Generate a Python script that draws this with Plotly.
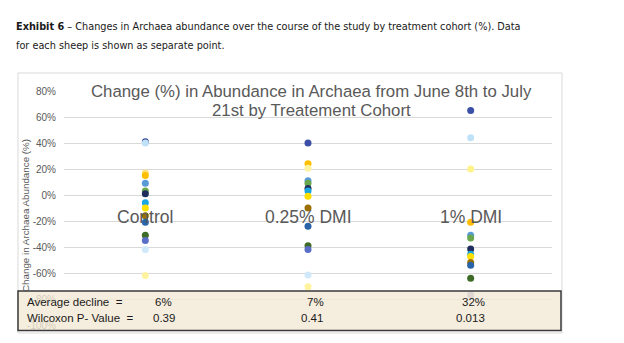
import plotly.graph_objects as go

# ---- data ----
categories = ["Control", "0.25% DMI", "1% DMI"]
control_values = [41, 40, 17, 15, 9, 3, 1, -6, -10, -16, -21, -31, -35, -42, -62]
control_colors = ["#33449a", "#bfe2f8", "#ffe27a", "#ffbf00", "#5b9bd5", "#6aa84f", "#1f2d5c",
                  "#1aa7e0", "#ffe000", "#9c7000", "#2a64a8", "#3e6b26", "#5a6ec8", "#cfe9fb", "#fff3a0"]
dmi025_values = [40, 24, 20.5, 11, 9, 5, 3, -1, -10, -24, -39, -42, -61.5, -70.5]
dmi025_colors = ["#3a4fa5", "#ffbf00", "#fff3a0", "#5b9bd5", "#6aa84f", "#1f2d5c", "#1aa7e0",
                 "#ffe000", "#9c7000", "#2a64a8", "#3e6b26", "#5a6ec8", "#cfe9fb", "#fff3a0"]
dmi1_values = [65, 44, 20, -21, -31, -33, -41.5, -45.6, -47.4, -52, -54, -64, -77]
dmi1_colors = ["#3a4fa5", "#bfe2f8", "#fff38a", "#ffbf00", "#5b9bd5", "#6aa84f", "#1f2d5c",
               "#1aa7e0", "#ffe000", "#9c7000", "#2a64a8", "#3e6b26", "#8f8fc0"]
avg_decline = ["6%", "7%", "32%"]
p_values = ["0.39", "0.41", "0.013"]
y_ticks = [80, 60, 40, 20, 0, -20, -40, -60, -80, -100]

W, H = 624, 343
L, R, T, B = 64, 72, 91, 18
PW, PH = W - L - R, H - T - B

def px(xp):
    return (xp - L) / PW

def py(yp):
    return (H - B - yp) / PH

fig = go.Figure()
groups = [(categories[0], control_values, control_colors),
          (categories[1], dmi025_values, dmi025_colors),
          (categories[2], dmi1_values, dmi1_colors)]
for name, vals, cols in groups:
    fig.add_trace(go.Scatter(
        x=[name] * len(vals), y=vals, mode="markers",
        marker=dict(size=7, color=cols, line=dict(width=0)),
        showlegend=False, hoverinfo="y"))

font_main = "Liberation Sans, Arial, sans-serif"
font_narrow = "Liberation Sans Narrow, DejaVu Sans Condensed, Arial Narrow, sans-serif"

fig.update_layout(
    width=W, height=H,
    margin=dict(l=L, r=R, t=T, b=B),
    paper_bgcolor="white", plot_bgcolor="white",
    xaxis=dict(type="category", categoryarray=categories, range=[-0.5, 2.5],
               showticklabels=False, showgrid=False, zeroline=False, showline=False),
    yaxis=dict(range=[-100, 80], tickvals=y_ticks,
               ticktext=[f"{v}%" for v in y_ticks],
               showgrid=True, gridcolor="#d9d9d9", gridwidth=1, zeroline=False,
               showline=False, ticks="", ticklen=0, ticklabelstandoff=7,
               tickfont=dict(family=font_main, size=10, color="#595959")),
    font=dict(family=font_main),
)

shapes = []
# outer chart frame
shapes.append(dict(type="rect", xref="paper", yref="paper",
                   x0=px(18), x1=px(562), y0=py(333), y1=py(73),
                   line=dict(color="#d9d9d9", width=1), fillcolor="rgba(0,0,0,0)", layer="below"))
# stats box
shapes.append(dict(type="rect", xref="paper", yref="paper",
                   x0=px(18), x1=px(561), y0=py(330.5), y1=py(291),
                   line=dict(color="#3a3a3a", width=1.5), fillcolor="rgba(243,233,213,0.8)",
                   layer="above"))
fig.update_layout(shapes=shapes)

ann = []
# header text
ann.append(dict(xref="paper", yref="paper", x=px(14), y=py(26), xanchor="left", yanchor="middle",
                showarrow=False, align="left",
                text="<b>Exhibit 6</b> – Changes in Archaea abundance over the course of the study by treatment cohort (%). Data",
                font=dict(family=font_narrow, size=10.8, color="#1a1a1a")))
ann.append(dict(xref="paper", yref="paper", x=px(14), y=py(45), xanchor="left", yanchor="middle",
                showarrow=False, align="left",
                text="for each sheep is shown as separate point.",
                font=dict(family=font_narrow, size=10.8, color="#1a1a1a")))
# chart title
ann.append(dict(xref="paper", yref="paper", x=px(311), y=py(91), xanchor="center", yanchor="middle",
                showarrow=False,
                text="Change (%) in Abundance in Archaea from June 8th to July",
                font=dict(family=font_main, size=16.8, color="#595959")))
ann.append(dict(xref="paper", yref="paper", x=px(311), y=py(110), xanchor="center", yanchor="middle",
                showarrow=False,
                text="21st by Treatement Cohort",
                font=dict(family=font_main, size=16.8, color="#595959")))
# y axis title
ann.append(dict(xref="paper", yref="paper", x=px(25), y=py(216), xanchor="center", yanchor="middle",
                showarrow=False, textangle=-90,
                text="Change in Archaea Abundance (%)",
                font=dict(family=font_main, size=9.8, color="#595959")))
# category labels
for c in categories:
    ann.append(dict(xref="x", yref="y", x=c, y=-17, xanchor="center", yanchor="middle",
                    showarrow=False, text=c,
                    font=dict(family=font_main, size=17.5, color="#595959")))
# stats box text
ann.append(dict(xref="paper", yref="paper", x=px(25), y=py(302), xanchor="left", yanchor="middle",
                showarrow=False, text="Average decline  =",
                font=dict(family=font_main, size=11.5, color="#1a1a1a")))
ann.append(dict(xref="paper", yref="paper", x=px(25), y=py(318), xanchor="left", yanchor="middle",
                showarrow=False, text="Wilcoxon P- Value  =",
                font=dict(family=font_main, size=11.5, color="#1a1a1a")))
avg_x = [163, 315, 473]
p_x = [164, 312, 470]
for i in range(3):
    ann.append(dict(xref="paper", yref="paper", x=px(avg_x[i]), y=py(302), xanchor="center",
                    yanchor="middle", showarrow=False, text=avg_decline[i],
                    font=dict(family=font_main, size=11.5, color="#1a1a1a")))
    ann.append(dict(xref="paper", yref="paper", x=px(p_x[i]), y=py(318), xanchor="center",
                    yanchor="middle", showarrow=False, text=p_values[i],
                    font=dict(family=font_main, size=11.5, color="#1a1a1a")))
fig.update_layout(annotations=ann)

fig.write_html("out.html")
